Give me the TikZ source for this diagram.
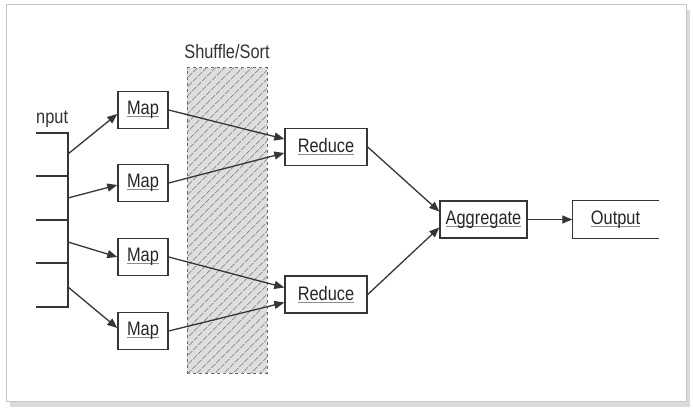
\documentclass[tikz,border=0pt]{standalone}
\usepackage{fontspec}
\setmainfont{Liberation Sans}[FakeStretch=0.84]
\usetikzlibrary{arrows.meta,patterns.meta}
\definecolor{lnGray}{HTML}{363636}
\definecolor{frGray}{HTML}{C4C4C4}
\newcommand{\lnk}[1]{\leavevmode\setbox0\hbox{#1}\rlap{\textcolor{black!45}{\rule[-2.5pt]{\wd0}{0.9pt}}}\box0}
\tikzset{
  box/.style={draw=lnGray, line width=1.4pt, fill=white, inner sep=0pt,
              minimum width=#1, minimum height=37pt, text=black!85,
              font=\fontsize{19.5}{22}\selectfont},
  box/.default=50pt,
  lbl/.style={font=\fontsize{19.5}{22}\selectfont, text=black!80, inner sep=0pt},
  arr/.style={-{Triangle[length=10pt, width=8pt]}, lnGray, line width=1.3pt},
  ln/.style={lnGray, line width=1.4pt},
}

\begin{document}
\begin{tikzpicture}[x=1pt, y=-1pt]
    \useasboundingbox (0,0) rectangle (693,412);
    % frame with shadow
    \fill[black!14] (10,10) rectangle (690,407);
    \draw[frGray, fill=white, line width=1pt] (6,5) rectangle (686,401);
    % shuffle / sort band
    \node[draw=black!60, dashed, line width=1pt, fill=black!13,
      minimum width=80pt, minimum height=305pt, inner sep=0pt,
      postaction={pattern={Lines[angle=45, distance=6.5pt, line width=1pt]},
        pattern color=black!42}] (shuf) at (227,220.5) {};
    \node[lbl, anchor=base] (shuflbl) at (227,59) {Shuffle/Sort};
    % input
    \node[lbl, anchor=base west] (inlbl) at (36,123) {nput};
    \coordinate (top) at (68,133);
    \coordinate (bot) at (68,307);
    \draw[ln] (36,133) -- (top) -- (bot) -- (36,307);
    \foreach \y in {176,220,263}
      \draw[ln] (36,\y) -- (68,\y);
    \coordinate (b1) at (68,154);
    \coordinate (b2) at (68,198);
    \coordinate (b3) at (68,242);
    \coordinate (b4) at (68,287);
    % maps
    \node[box] (m1) at (143,110) {\lnk{Map}};
    \node[box] (m2) at (143,183) {\lnk{Map}};
    \node[box] (m3) at (143,257) {\lnk{Map}};
    \node[box] (m4) at (143,331) {\lnk{Map}};
    % reducers, aggregate, output
    \node[box=82pt] (r1) at (326,147) {\lnk{Reduce}};
    \node[box=82pt] (r2) at (326,294.5) {\lnk{Reduce}};
    \node[box=87pt] (agg) at (483.5,219.5) {\lnk{Aggregate}};
    \node[box=85pt, draw=none] (out) at (615.5,219.5) {\lnk{Output}};
    \draw[ln] (out.north east) -- (out.north west) -- (out.south west) -- (out.south east);
    \draw[arr] (b1) -- ([yshift=-4pt]m1.west);
    \draw[arr] (b2) -- ([yshift=-2pt]m2.west);
    \draw[arr] (b3) -- (m3.west);
    \draw[arr] (b4) -- ([yshift=3pt]m4.west);
    \draw[arr] (m1.east) -- ([yshift=8pt]r1.west);
    \draw[arr] (m2.east) -- ([yshift=-6pt]r1.west);
    \draw[arr] (m3.east) -- ([yshift=7pt]r2.west);
    \draw[arr] (m4.east) -- ([yshift=-8pt]r2.west);
    \draw[arr] (r1.east) -- ([yshift=8pt]agg.west);
    \draw[arr] (r2.east) -- ([yshift=-8pt]agg.west);
    \draw[arr] (agg) -- (out);
  \end{tikzpicture}
\end{document}
